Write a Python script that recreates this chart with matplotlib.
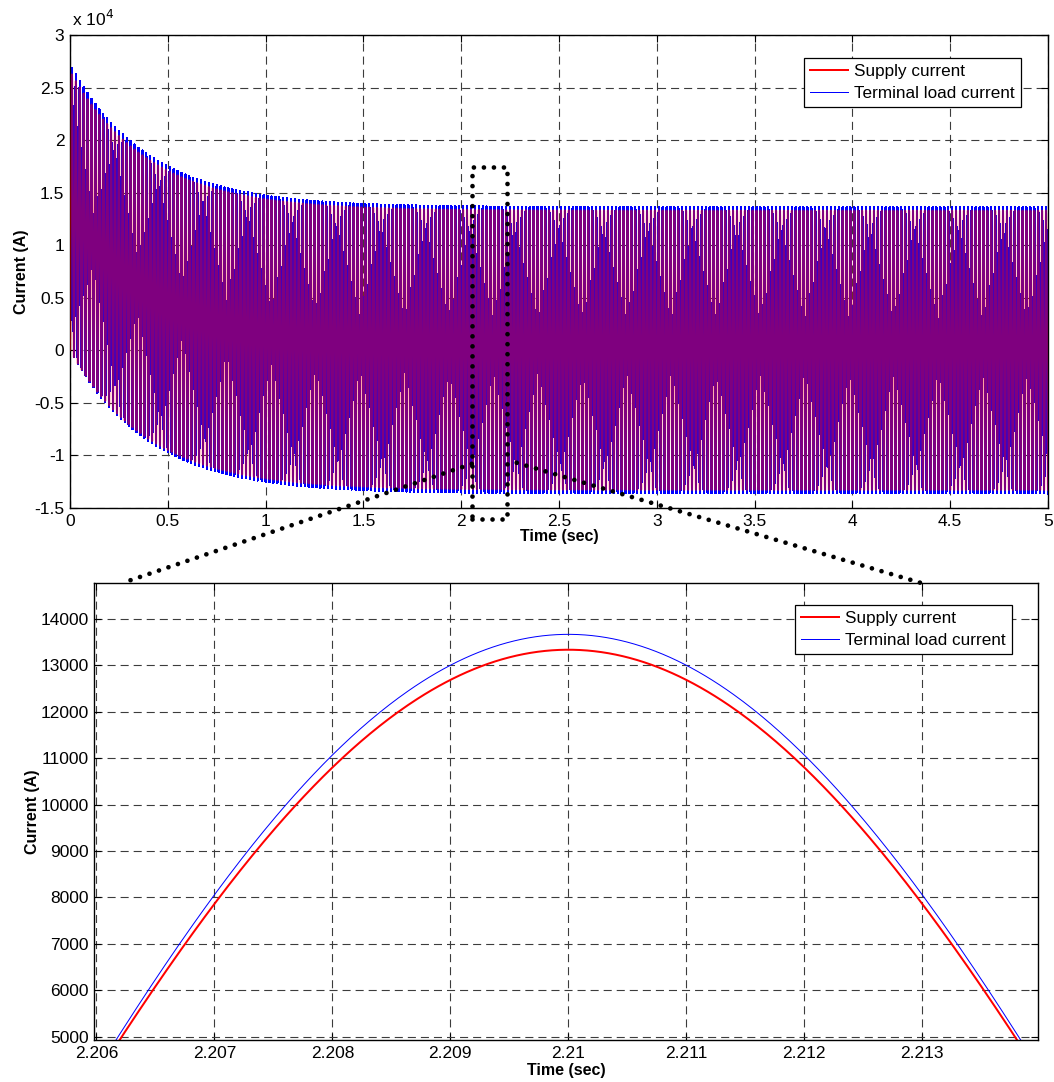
import matplotlib.pyplot as plt
import numpy as np
from matplotlib.lines import Line2D
from matplotlib.patches import Rectangle, ConnectionPatch
from matplotlib.ticker import FuncFormatter

plt.rcParams['font.family'] = ['Liberation Sans', 'DejaVu Sans']
plt.rcParams['axes.unicode_minus'] = False
plt.rcParams['lines.scale_dashes'] = False

# waveform parameters
freq_hz = 50.0          # one cycle ~ 0.02 s in the zoomed panel
peak_time = 2.21        # crest of the zoomed cycle
supply_amp = 13280.0    # supply current crest at 2.21 s
load_amp = 13610.0      # terminal load current crest at 2.21 s
dc_tau = 0.4            # decay of the start-up offset (s)
t_end = 5.0
sample_step = 2e-5

top_xticks = [0, 0.5, 1, 1.5, 2, 2.5, 3, 3.5, 4, 4.5, 5]
top_yticks = [-15000, -10000, -5000, 0, 5000, 10000, 15000, 20000, 25000, 30000]
zoom_xticks = [2.206, 2.207, 2.208, 2.209, 2.21, 2.211, 2.212, 2.213]
zoom_yticks = [5000, 6000, 7000, 8000, 9000, 10000, 11000, 12000, 13000, 14000]
zoom_xlim = (2.20598, 2.21398)
zoom_ylim = (4930, 14770)

# zoom box drawn on the top panel and where its connectors land
box_x = (2.054, 2.234)
box_y = (-16050, 17470)
link_from = [(2.054, -10800), (2.284, -10700)]
link_to = [2.20622, 2.21299]

legend_labels = ['Supply current', 'Terminal load current']


def phase_current(t, amp):
    # 50 Hz wave plus a decaying offset so the current starts at zero
    return amp * (np.cos(2 * np.pi * freq_hz * (t - peak_time)) + np.exp(-t / dc_tau))


t = np.arange(0, t_end + sample_step / 2, sample_step)
i_supply = phase_current(t, supply_amp)
i_load = phase_current(t, load_amp)

fig = plt.figure(figsize=(10.54, 10.82), dpi=100)
ax_top = fig.add_axes([0.0664, 0.5305, 0.9279, 0.4372])
ax_zoom = fig.add_axes([0.0892, 0.0388, 0.8956, 0.4224])

grid_kw = dict(color='#3c3c3c', linestyle=(0, (5.8, 3.6)), linewidth=0.8)
handles = [Line2D([], [], color='red', lw=1.44), Line2D([], [], color='blue', lw=0.72)]

# top panel: whole run (250 cycles squeezed into ~980 px, so the traces blend)
ax_top.plot(t, i_load, color='blue', lw=0.9, antialiased=False, zorder=2)
ax_top.plot(t, i_supply, color='red', lw=1.5, alpha=0.5, zorder=3)
ax_top.set_xlim(0, 5)
ax_top.set_ylim(-15000, 30000)
ax_top.set_xticks(top_xticks)
ax_top.set_yticks(top_yticks)
ax_top.xaxis.set_major_formatter(FuncFormatter(lambda v, _: f'{v:g}'))
ax_top.yaxis.set_major_formatter(FuncFormatter(lambda v, _: f'{v / 1e4:g}'))
ax_top.text(0.002, 1.012, r'x 10$^{4}$', transform=ax_top.transAxes, fontsize=12.5,
            ha='left', va='bottom')
ax_top.set_xlabel('Time (sec)', fontsize=11.5, fontweight='bold', labelpad=0)
ax_top.set_ylabel('Current (A)', fontsize=11.5, fontweight='bold', labelpad=4)

# bottom panel: one crest around 2.21 s
win = (t > 2.2055) & (t < 2.2145)
ax_zoom.plot(t[win], i_supply[win], color='red', lw=1.44)
ax_zoom.plot(t[win], i_load[win], color='blue', lw=0.72)
ax_zoom.set_xlim(*zoom_xlim)
ax_zoom.set_ylim(*zoom_ylim)
ax_zoom.set_xticks(zoom_xticks)
ax_zoom.set_yticks(zoom_yticks)
ax_zoom.xaxis.set_major_formatter(FuncFormatter(lambda v, _: f'{v:.6g}'))
ax_zoom.set_xlabel('Time (sec)', fontsize=11.5, fontweight='bold', labelpad=2)
ax_zoom.set_ylabel('Current (A)', fontsize=11.5, fontweight='bold', labelpad=0)

for ax in (ax_top, ax_zoom):
    ax.grid(True, **grid_kw)
    ax.tick_params(direction='in', top=True, right=True, length=5, width=0.8,
                   labelsize=12.5, pad=4)
    for sp in ax.spines.values():
        sp.set_linewidth(1.0)
    leg = ax.legend(handles, legend_labels, loc='upper right', bbox_to_anchor=(0.972, 0.951),
                    fontsize=12.3, fancybox=False, framealpha=1, edgecolor='black',
                    borderpad=0.35, labelspacing=0.4, handlelength=2.2, handletextpad=0.35,
                    borderaxespad=0)
    leg.get_frame().set_linewidth(0.9)
    leg.set_zorder(10)

# dotted zoom box and connectors
dot_kw = dict(color='black', linewidth=3.4, linestyle=(0, (0.01, 7.2)),
              capstyle='round')
box = Rectangle((box_x[0], box_y[0]), box_x[1] - box_x[0], box_y[1] - box_y[0],
                fill=False, clip_on=False, zorder=6, **dot_kw)
ax_top.add_patch(box)
top_of_zoom = zoom_ylim[1]
for (xa, ya), xb in zip(link_from, link_to):
    con = ConnectionPatch(xyA=(xa, ya), coordsA=ax_top.transData,
                          xyB=(xb, top_of_zoom), coordsB=ax_zoom.transData,
                          zorder=6, **dot_kw)
    fig.add_artist(con)

fig.savefig('out.png', dpi=100)
